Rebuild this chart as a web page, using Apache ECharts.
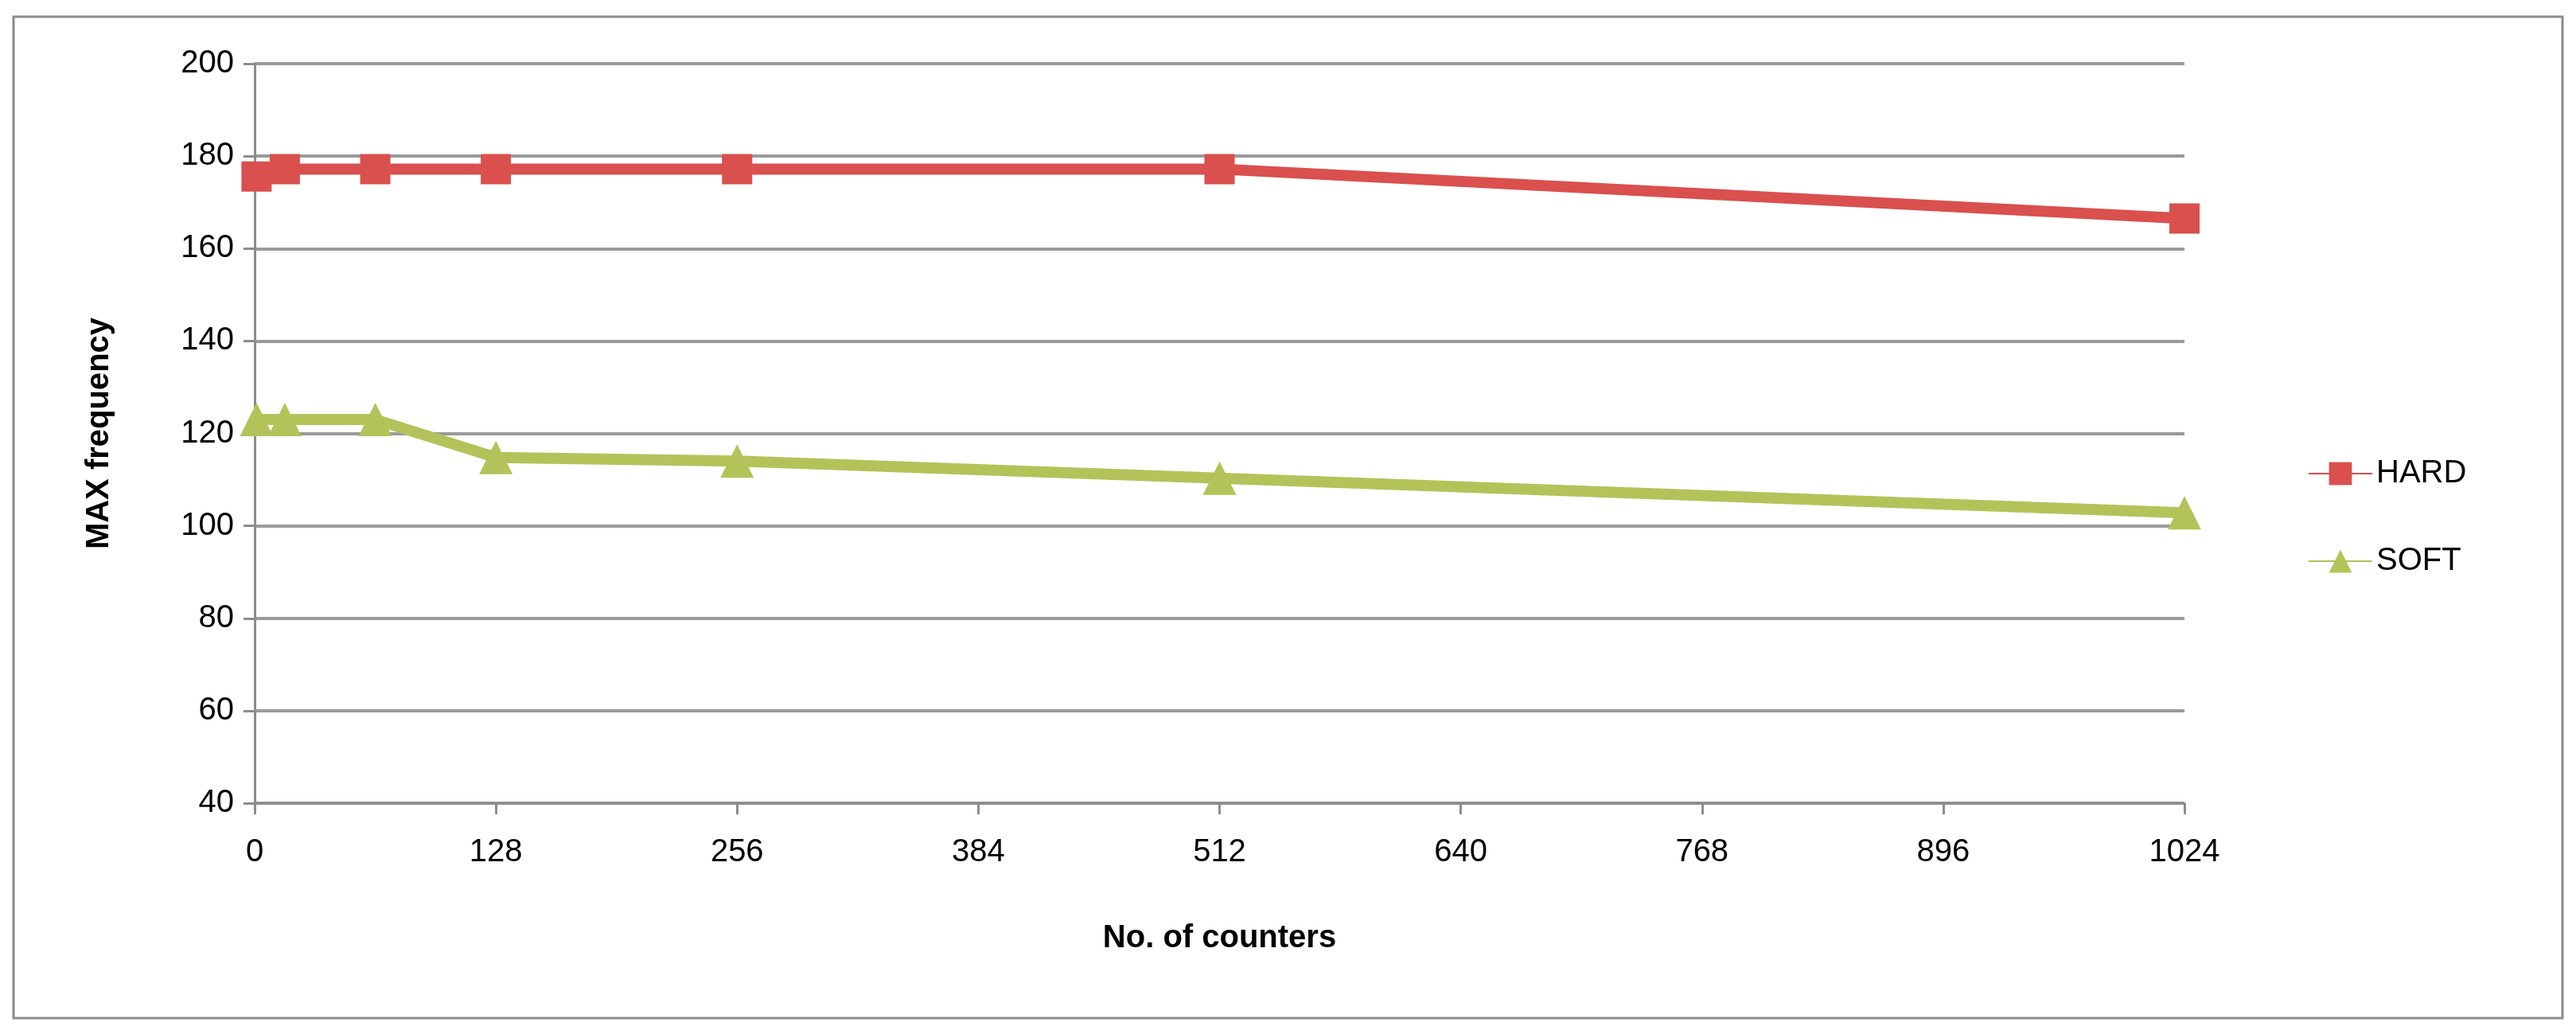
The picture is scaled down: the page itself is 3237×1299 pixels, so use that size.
<!DOCTYPE html>
<html><head><meta charset="utf-8">
<script src="https://cdn.jsdelivr.net/npm/echarts@6/dist/echarts.min.js"></script>
<style>html,body{margin:0;padding:0;background:#fff}#c{width:3237px;height:1299px}</style>
</head><body><div id="c"></div>
<script>
const xValues=[1,16,64,128,256,512,1024];
const hard=[175.6,177.2,177.2,177.2,177.2,177.2,166.5];
const soft=[123,123,123,114.8,114,110.3,102.8];
const FONT='"Liberation Sans Narrow","Liberation Sans",Arial,sans-serif';
const chart=echarts.init(document.getElementById('c'));
chart.setOption({
  backgroundColor:'#fff',
  animation:false,
  graphic:[{type:'rect',shape:{x:17,y:21,width:3203,height:1258},style:{fill:'none',stroke:'#8c8c8c',lineWidth:3}}],
  grid:{left:320,right:3237-2745,top:80,bottom:1299-1009},
  legend:{orient:'vertical',left:2895,top:570,itemGap:70,itemWidth:80,itemHeight:36,
    textStyle:{fontFamily:FONT,fontSize:40,color:'#000'},
    data:['HARD','SOFT']},
  xAxis:{type:'value',min:0,max:1024,interval:128,
    name:'No. of counters',nameLocation:'middle',nameGap:150,
    nameTextStyle:{fontFamily:FONT,fontSize:40,fontWeight:'bold',color:'#000'},
    axisLine:{lineStyle:{color:'#8c8c8c',width:3}},
    axisTick:{show:true,length:14,lineStyle:{color:'#8c8c8c',width:3}},
    axisLabel:{fontFamily:FONT,fontSize:40,color:'#000',margin:42,formatter:v=>String(v)},
    splitLine:{show:false}},
  yAxis:{type:'value',min:40,max:200,interval:20,
    name:'MAX frequency',nameLocation:'middle',nameGap:175,
    nameTextStyle:{fontFamily:FONT,fontSize:40,fontWeight:'bold',color:'#000'},
    axisLine:{show:true,lineStyle:{color:'#8c8c8c',width:3}},
    axisTick:{show:true,length:14,lineStyle:{color:'#8c8c8c',width:3}},
    axisLabel:{fontFamily:FONT,fontSize:40,color:'#000',margin:26},
    splitLine:{lineStyle:{color:'#9a9a9a',width:4}}},
  series:[
    {name:'HARD',type:'line',data:xValues.map((x,i)=>[x,hard[i]]),symbol:'rect',symbolSize:38,
     itemStyle:{color:'#d9504e'},lineStyle:{color:'#d9504e',width:14}},
    {name:'SOFT',type:'line',data:xValues.map((x,i)=>[x,soft[i]]),symbol:'triangle',symbolSize:42,
     itemStyle:{color:'#b3c35a'},lineStyle:{color:'#b3c35a',width:14}}
  ]
});
</script></body></html>
